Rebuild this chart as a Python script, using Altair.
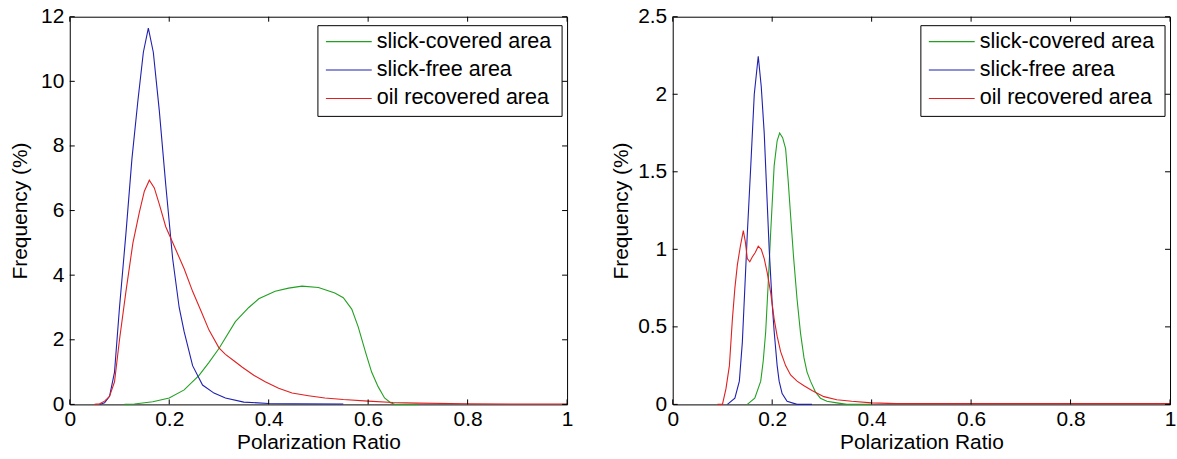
import altair as alt
import pandas as pd

FONT = "Liberation Sans"
FS = 21

series_names = ["slick-covered area", "slick-free area", "oil recovered area"]
series_colors = ["#22a022", "#2020b0", "#e02020"]

x_ticks = [0, 0.2, 0.4, 0.6, 0.8, 1]
y_ticks_left = [0, 2, 4, 6, 8, 10, 12]
y_ticks_right = [0, 0.5, 1, 1.5, 2, 2.5]

# ---- left panel ----
l_green_x = [0.11, 0.13, 0.167, 0.20, 0.23, 0.26, 0.28, 0.30, 0.333, 0.36, 0.38, 0.413, 0.44,
             0.467, 0.50, 0.533, 0.55, 0.567, 0.58, 0.595, 0.607, 0.62, 0.633, 0.645, 0.655, 0.70]
l_green_y = [0.0, 0.01, 0.08, 0.2, 0.45, 0.9, 1.3, 1.73, 2.56, 3.0, 3.27, 3.5, 3.6,
             3.66, 3.62, 3.45, 3.3, 2.95, 2.4, 1.6, 1.0, 0.55, 0.2, 0.05, 0.0, 0.0]

l_blue_x = [0.06, 0.07, 0.08, 0.09, 0.10, 0.113, 0.125, 0.137, 0.148, 0.158, 0.168, 0.18, 0.193,
            0.207, 0.22, 0.23, 0.247, 0.267, 0.29, 0.313, 0.35, 0.40, 0.45, 0.55]
l_blue_y = [0.0, 0.05, 0.25, 1.0, 3.0, 5.3, 7.6, 9.4, 10.9, 11.65, 10.9, 9.1, 6.8,
            4.5, 3.0, 2.25, 1.2, 0.6, 0.35, 0.2, 0.07, 0.03, 0.02, 0.01]

l_red_x = [0.05, 0.06, 0.07, 0.08, 0.09, 0.10, 0.113, 0.127, 0.14, 0.15, 0.16, 0.17, 0.18, 0.193,
           0.21, 0.23, 0.247, 0.265, 0.28, 0.30, 0.313, 0.33, 0.347, 0.37, 0.393, 0.42, 0.447,
           0.48, 0.513, 0.55, 0.60, 0.65, 0.70, 0.80, 0.90, 1.0]
l_red_y = [0.0, 0.02, 0.1, 0.25, 0.7, 2.0, 3.5, 5.0, 5.95, 6.6, 6.94, 6.7, 6.2, 5.5,
           4.9, 4.2, 3.5, 2.85, 2.3, 1.75, 1.55, 1.35, 1.15, 0.9, 0.7, 0.5, 0.35,
           0.27, 0.2, 0.15, 0.1, 0.06, 0.04, 0.02, 0.01, 0.01]

# ---- right panel ----
r_green_x = [0.15, 0.165, 0.177, 0.182, 0.187, 0.192, 0.197, 0.204, 0.21, 0.215, 0.221, 0.227,
             0.232, 0.237, 0.243, 0.25, 0.257, 0.264, 0.27, 0.277, 0.287, 0.297, 0.31, 0.33,
             0.35, 0.40]
r_green_y = [0.0, 0.04, 0.15, 0.28, 0.47, 0.78, 1.11, 1.54, 1.7, 1.75, 1.72, 1.65,
             1.45, 1.22, 0.95, 0.68, 0.46, 0.3, 0.21, 0.15, 0.08, 0.04, 0.02, 0.01,
             0.0, 0.0]

r_blue_x = [0.11, 0.125, 0.134, 0.14, 0.144, 0.15, 0.157, 0.164, 0.172, 0.178, 0.184, 0.19,
            0.194, 0.2, 0.204, 0.21, 0.214, 0.22, 0.23, 0.25, 0.28]
r_blue_y = [0.0, 0.04, 0.15, 0.4, 0.68, 1.1, 1.54, 2.0, 2.245, 2.05, 1.75, 1.3,
            1.0, 0.65, 0.47, 0.25, 0.15, 0.07, 0.02, 0.0, 0.0]

r_red_x = [0.09, 0.10, 0.107, 0.114, 0.12, 0.125, 0.13, 0.136, 0.142, 0.146, 0.15, 0.155, 0.16,
           0.166, 0.172, 0.178, 0.184, 0.19, 0.197, 0.204, 0.21, 0.217, 0.227, 0.237, 0.25,
           0.264, 0.28, 0.304, 0.33, 0.36, 0.40, 0.45, 0.60, 0.80, 1.0]
r_red_y = [0.0, 0.0, 0.1, 0.25, 0.55, 0.75, 0.9, 1.02, 1.12, 1.05, 0.94, 0.92, 0.95,
           0.98, 1.02, 1.0, 0.94, 0.85, 0.72, 0.55, 0.44, 0.34, 0.25, 0.19, 0.15,
           0.12, 0.09, 0.05, 0.03, 0.02, 0.01, 0.005, 0.005, 0.005, 0.005]

W, H = 499, 389


def build_df(parts):
    rows = []
    for name, xs, ys in parts:
        for i, (x, y) in enumerate(zip(xs, ys)):
            rows.append({"series": name, "x": x, "y": y, "i": i})
    return pd.DataFrame(rows)


color = alt.Color("series:N", scale=alt.Scale(domain=series_names, range=series_colors), legend=None)


def panel(df, y_max, y_ticks, title_pad):
    xs = alt.Scale(domain=[0, 1], nice=False, zero=False)
    ys = alt.Scale(domain=[0, y_max], nice=False, zero=False)
    x_axis = alt.Axis(values=x_ticks, format="~g", title="Polarization Ratio", labelPadding=4, titlePadding=2)
    lines = alt.Chart(df).mark_line(strokeWidth=1.1).encode(
        x=alt.X("x:Q", scale=xs, axis=x_axis),
        y=alt.Y("y:Q", scale=ys, axis=alt.Axis(values=y_ticks, format="~g", title="Frequency (%)",
                                                labelPadding=6, titlePadding=title_pad)),
        color=color,
        detail="series:N",
        order="i:Q",
    )
    xt = pd.DataFrame({"t": x_ticks})
    yt = pd.DataFrame({"t": y_ticks})
    xb = alt.Chart(xt).mark_rule(color="black", strokeWidth=1).encode(
        x=alt.X("t:Q", scale=xs, axis=x_axis), y=alt.value(H), y2=alt.value(H - 5))
    xtp = alt.Chart(xt).mark_rule(color="black", strokeWidth=1).encode(
        x=alt.X("t:Q", scale=xs, axis=x_axis), y=alt.value(0), y2=alt.value(5))
    yl = alt.Chart(yt).mark_rule(color="black", strokeWidth=1).encode(
        y=alt.Y("t:Q", scale=ys, axis=None), x=alt.value(0), x2=alt.value(5))
    yr = alt.Chart(yt).mark_rule(color="black", strokeWidth=1).encode(
        y=alt.Y("t:Q", scale=ys, axis=None), x=alt.value(W), x2=alt.value(W - 5))

    leg_df = pd.DataFrame({"series": series_names})
    leg_y = alt.Y("series:N", scale=alt.Scale(type="point", domain=series_names, range=[25, 82], padding=0),
                  axis=None)
    box = alt.Chart(pd.DataFrame({"b": [0]})).mark_rect(fill="white", stroke="black", strokeWidth=1).encode(
        x=alt.value(249), x2=alt.value(494), y=alt.value(9), y2=alt.value(100))
    leg_lines = alt.Chart(leg_df).mark_rule(strokeWidth=1.1).encode(
        x=alt.value(257), x2=alt.value(303), y=leg_y, color=color)
    leg_text = alt.Chart(leg_df).mark_text(align="left", baseline="middle", font=FONT, fontSize=21.6,
                                           color="black").encode(
        x=alt.value(308), y=leg_y, text="series:N")
    return alt.layer(lines, xb, xtp, yl, yr, box, leg_lines, leg_text).resolve_scale(
        y="independent").properties(width=W, height=H)


left_df = build_df([(series_names[0], l_green_x, l_green_y),
                    (series_names[1], l_blue_x, l_blue_y),
                    (series_names[2], l_red_x, l_red_y)])
right_df = build_df([(series_names[0], r_green_x, r_green_y),
                     (series_names[1], r_blue_x, r_blue_y),
                     (series_names[2], r_red_x, r_red_y)])

left = panel(left_df, 12, y_ticks_left, 10)
right = panel(right_df, 2.5, y_ticks_right, 6)

chart = alt.hconcat(left, right, spacing=106, bounds="flush").properties(
    padding={"left": 9, "top": 4, "right": 0, "bottom": 0},
    background="white",
).configure_axis(
    labelFont=FONT, titleFont=FONT, labelFontSize=FS, titleFontSize=FS, titleFontWeight="normal",
    labelColor="black", titleColor="black", domain=False, ticks=False, tickSize=0, grid=False,
    labelFlush=False, labelOverlap=False, labelBound=False
).configure_view(stroke="black", strokeWidth=1)

chart.save("out.html", embed_options={"renderer": "svg", "actions": False})
